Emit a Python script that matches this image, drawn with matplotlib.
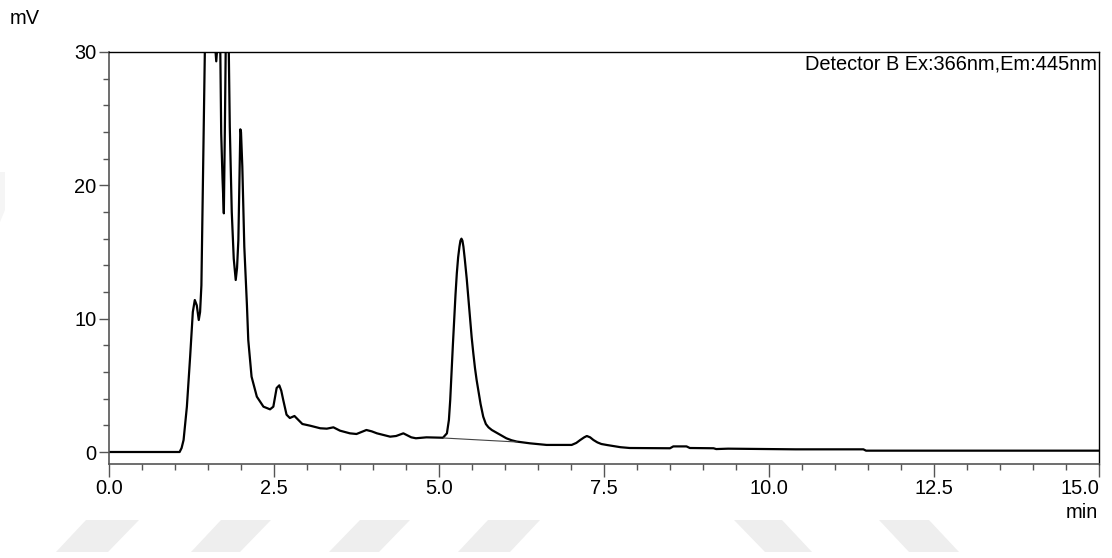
import matplotlib.pyplot as plt
from matplotlib.patches import Polygon
from matplotlib.ticker import MultipleLocator

plt.rcParams["font.family"] = ["Liberation Sans", "DejaVu Sans"]

# retention time (min) and detector signal (mV), read point by point
time_min = [
    0.0, 1.07, 1.10, 1.13, 1.18, 1.23, 1.27, 1.30, 1.33, 1.36, 1.38, 1.40,
    1.42, 1.435, 1.455, 1.50, 1.56, 1.60, 1.625, 1.65, 1.68, 1.70, 1.72,
    1.74, 1.755, 1.77, 1.79, 1.81, 1.83, 1.86, 1.89, 1.92, 1.94, 1.96,
    1.975, 1.99, 2.00, 2.02, 2.05, 2.09, 2.11, 2.16, 2.24, 2.34, 2.44,
    2.49, 2.54, 2.58, 2.61, 2.64, 2.69, 2.74, 2.81, 2.87, 2.93, 3.05,
    3.20, 3.30, 3.40, 3.50, 3.65, 3.75, 3.90, 3.98, 4.06, 4.26, 4.35,
    4.46, 4.58, 4.65, 4.81, 5.06, 5.12, 5.15, 5.17, 5.19, 5.21, 5.23,
    5.25, 5.27, 5.29, 5.31, 5.325, 5.34, 5.355, 5.37, 5.39, 5.42, 5.445,
    5.47, 5.495, 5.52, 5.545, 5.57, 5.60, 5.63, 5.67, 5.71, 5.75, 5.80,
    5.87, 5.95, 6.02, 6.10, 6.18, 6.38, 6.63, 7.01, 7.08, 7.14, 7.20,
    7.24, 7.29, 7.34, 7.40, 7.46, 7.55, 7.64, 7.75, 7.89, 8.50, 8.55,
    8.75, 8.80, 9.16, 9.20, 9.38, 10.40, 11.43, 11.47, 15.0,
]
signal_mv = [
    0.0, 0.0, 0.3, 0.9, 3.4, 7.2, 10.5, 11.4, 11.0, 9.9, 10.5, 12.5,
    19.4, 25.0, 31.0, 36.0, 34.0, 31.0, 29.3, 31.0, 33.0, 23.9, 20.5,
    17.9, 24.0, 31.0, 34.0, 32.0, 24.4, 18.0, 14.5, 12.9, 13.8, 15.9,
    20.0, 24.2, 24.0, 21.4, 15.4, 11.0, 8.4, 5.65, 4.15, 3.4, 3.2,
    3.4, 4.8, 5.0, 4.6, 3.9, 2.8, 2.55, 2.7, 2.4, 2.1, 1.97,
    1.78, 1.75, 1.85, 1.6, 1.4, 1.35, 1.65, 1.55, 1.4, 1.15, 1.2,
    1.4, 1.1, 1.03, 1.1, 1.07, 1.4, 2.4, 3.9, 6.0, 8.0, 9.9,
    11.8, 13.4, 14.6, 15.4, 15.85, 16.0, 15.85, 15.4, 14.5, 13.0, 11.5,
    10.0, 8.6, 7.4, 6.3, 5.4, 4.5, 3.6, 2.65, 2.1, 1.85, 1.65,
    1.45, 1.22, 1.03, 0.88, 0.78, 0.65, 0.53, 0.53, 0.68, 0.9, 1.1,
    1.2, 1.1, 0.9, 0.72, 0.6, 0.52, 0.45, 0.36, 0.3, 0.28, 0.42,
    0.42, 0.3, 0.28, 0.22, 0.25, 0.2, 0.2, 0.1, 0.1,
]

# integration baseline under the main peak
base_t = [5.07, 6.18]
base_mv = [1.05, 0.75]

x_ticks = [0.0, 2.5, 5.0, 7.5, 10.0, 12.5, 15.0]
x_tick_labels = ["0.0", "2.5", "5.0", "7.5", "10.0", "12.5", "15.0"]

W, H = 1112, 558
FS = 14.4
fig = plt.figure(figsize=(W / 100, H / 100), dpi=100)
ax = fig.add_axes([109 / W, 1 - 464 / H, 990 / W, 412 / H])

ax.plot(time_min, signal_mv, color="black", lw=1.6, solid_joinstyle="round")
ax.plot(base_t, base_mv, color="#444444", lw=0.8)

ax.set_xlim(0, 15)
ax.set_ylim(-0.9, 30)

ax.set_xticks(x_ticks)
ax.set_xticklabels(x_tick_labels)
ax.xaxis.set_minor_locator(MultipleLocator(0.5))
ax.yaxis.set_major_locator(MultipleLocator(10))
ax.yaxis.set_minor_locator(MultipleLocator(2))

ax.tick_params(axis="x", which="major", length=9, width=1, color="#555555",
               labelsize=FS, pad=2)
ax.tick_params(axis="x", which="minor", length=4, width=1, color="#555555")
ax.tick_params(axis="y", which="major", length=7, width=1, color="#555555",
               labelsize=FS, pad=2)
ax.tick_params(axis="y", which="minor", length=4, width=1, color="#555555")

# keep the last time label inside the frame
ax.xaxis.get_major_ticks()[-1].label1.set_horizontalalignment("right")

for side in ("left", "bottom"):
    ax.spines[side].set_color("#555555")
    ax.spines[side].set_linewidth(1.2)
for side in ("top", "right"):
    ax.spines[side].set_color("black")
    ax.spines[side].set_linewidth(1.0)

ax.text(0.998, 0.994, "Detector B Ex:366nm,Em:445nm", transform=ax.transAxes,
        ha="right", va="top", fontsize=FS)
fig.text(10 / W, 1 - 18 / H, "mV", ha="left", va="center", fontsize=FS)
fig.text(1098 / W, 1 - 512 / H, "min", ha="right", va="center", fontsize=FS)

# faint slanted bands along the bottom edge
bands = [
    [(86, 520), (139, 520), (108, 552), (56, 552)],
    [(221, 520), (271, 520), (240, 552), (191, 552)],
    [(360, 520), (410, 520), (379, 552), (329, 552)],
    [(488, 520), (540, 520), (510, 552), (458, 552)],
    [(734, 520), (782, 520), (812, 552), (765, 552)],
    [(879, 520), (929, 520), (959, 552), (909, 552)],
]
for verts in bands:
    fig.patches.append(Polygon([(x / W, 1 - y / H) for x, y in verts], closed=True,
                               transform=fig.transFigure, facecolor="#eeeeee",
                               edgecolor="none", zorder=0))
fig.patches.append(Polygon([(0, 1 - 172 / H), (5 / W, 1 - 172 / H),
                            (5 / W, 1 - 210 / H), (0, 1 - 222 / H)], closed=True,
                           transform=fig.transFigure, facecolor="#f5f5f5",
                           edgecolor="none", zorder=0))

fig.savefig("out.png", dpi=100)
